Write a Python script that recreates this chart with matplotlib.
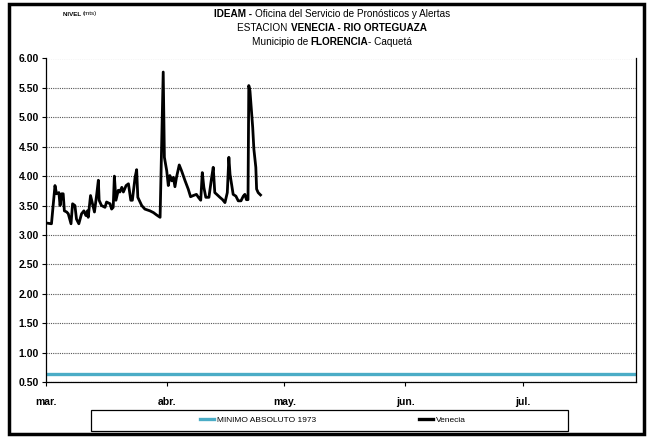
import matplotlib
matplotlib.use('Agg')
import matplotlib.pyplot as plt
from matplotlib.patches import Rectangle
from matplotlib.lines import Line2D

plt.rcParams['font.family'] = ['Liberation Sans', 'DejaVu Sans']

# days counted from 1 March
days = [0.4, 1.4, 2.3, 2.7, 3.3, 3.6, 4.0, 4.4, 4.7, 5.3, 5.7, 6.4, 6.8, 7.4, 7.8,
        8.4, 9.1, 9.7, 10.2, 10.6, 10.8, 11.4, 11.9, 12.4, 13.0, 13.4, 13.6, 14.2,
        15.1, 15.5, 16.4, 16.8, 17.2, 17.5, 17.9, 18.5, 18.9, 19.4, 19.8, 20.5,
        21.1, 21.7, 22.1, 22.8, 23.2, 23.5, 24.5, 25.3, 26.6, 27.5, 28.3, 29.2,
        30.0, 30.3, 30.9, 31.3, 31.7, 32.2, 32.6, 33.0, 33.4, 34.1, 34.7, 35.6,
        36.4, 37.0, 37.7, 38.5, 39.0, 39.6, 40.0, 40.4, 40.9, 41.7, 42.4, 42.8,
        43.2, 43.7, 44.5, 45.2, 45.8, 46.4, 46.8, 47.1, 47.9, 48.6, 49.2, 49.9,
        50.5, 50.9, 51.3, 51.7, 51.9, 52.2, 52.9, 53.2, 53.7, 53.9, 54.3, 54.9]
nivel = [3.20, 3.19, 3.84, 3.70, 3.72, 3.50, 3.70, 3.70, 3.41, 3.39, 3.36, 3.19, 3.53,
         3.50, 3.27, 3.19, 3.36, 3.41, 3.33, 3.41, 3.30, 3.67, 3.53, 3.39, 3.70, 3.93,
         3.59, 3.50, 3.47, 3.56, 3.53, 3.44, 3.47, 4.00, 3.59, 3.76, 3.73, 3.81, 3.73,
         3.84, 3.87, 3.59, 3.59, 3.98, 4.11, 3.64, 3.50, 3.44, 3.41, 3.38, 3.34, 3.30,
         5.77, 4.32, 4.09, 3.84, 4.01, 3.92, 3.98, 3.82, 3.98, 4.19, 4.09, 3.92, 3.78,
         3.65, 3.67, 3.69, 3.64, 3.59, 4.06, 3.81, 3.64, 3.64, 3.98, 4.15, 3.72, 3.69,
         3.64, 3.60, 3.55, 3.72, 4.32, 4.03, 3.69, 3.66, 3.58, 3.58, 3.66, 3.69, 3.60,
         3.60, 5.54, 5.45, 4.83, 4.46, 4.15, 3.78, 3.72, 3.68]

minimo = 0.64
month_labels = ['mar.', 'abr.', 'may.', 'jun.', 'jul.']
month_starts = [0, 31, 61, 92, 122]
x_end = 151

W, H = 651, 437
fig = plt.figure(figsize=(W / 100, H / 100), dpi=100)
ax = fig.add_axes([46 / W, 1 - 382 / H, 590 / W, 323.5 / H])

ax.axhline(minimo, color='#4bacc6', lw=2.4)
ax.plot(days, nivel, color='black', lw=2.0, solid_joinstyle='round')

ax.set_xlim(0, x_end)
ax.set_ylim(0.5, 6.0)
ax.set_yticks([0.5 + 0.5 * i for i in range(12)])
ax.set_yticklabels(['%.2f' % (0.5 + 0.5 * i) for i in range(12)],
                   fontsize=7.5, fontweight='bold')
ax.set_xticks(month_starts)
ax.set_xticklabels(month_labels, fontsize=7.5, fontweight='bold')
ax.tick_params(axis='both', direction='out', length=3, width=0.8, color='black')
ax.tick_params(axis='x', pad=8)
ax.tick_params(axis='y', pad=2)
ax.grid(axis='y', color='#555555', linestyle=(0, (1, 1)), lw=0.8)
ax.set_axisbelow(True)
ax.spines['top'].set_visible(False)
for s in ['left', 'bottom', 'right']:
    ax.spines[s].set_linewidth(0.9)

# mixed-weight title lines
renderer = fig.canvas.get_renderer()

def rich_line(cx, y, parts, size):
    texts = [fig.text(0, y, s, fontsize=size, fontweight=w, va='center', ha='left')
             for s, w in parts]
    widths = [t.get_window_extent(renderer).width for t in texts]
    x0 = cx - sum(widths) / 2
    for t, w in zip(texts, widths):
        t.set_x(x0 / W)
        x0 += w

rich_line(332, 1 - 14 / H, [('IDEAM - ', 'bold'),
                            ('Oficina del Servicio de Pronósticos y Alertas', 'normal')], 7.2)
rich_line(332, 1 - 28 / H, [('ESTACION ', 'normal'),
                            ('VENECIA - RIO ORTEGUAZA', 'bold')], 7.2)
rich_line(332, 1 - 42 / H, [('Municipio de ', 'normal'), ('FLORENCIA', 'bold'),
                            ('- Caquetá', 'normal')], 7.2)
rich_line(80, 1 - 14 / H, [('NIVEL ', 'bold'), ('(mts)', 'normal')], 4.5)

# legend
handles = [Line2D([], [], color='#4bacc6', lw=2.4),
           Line2D([], [], color='black', lw=2.4)]
fig.legend(handles, ['MINIMO ABSOLUTO 1973', 'Venecia'], loc='center',
           bbox_to_anchor=(333 / W, 1 - 420.5 / H), ncol=2, frameon=False,
           fontsize=6, handlelength=1.7, handletextpad=0.3, columnspacing=12.4)
fig.patches.append(Rectangle((91 / W, 1 - 431 / H), 477 / W, 21 / H, fill=False,
                             edgecolor='black', lw=0.9, transform=fig.transFigure))

# outer border
fig.patches.append(Rectangle((9 / W, 1 - 434 / H), 635 / W, 430 / H, fill=False,
                             edgecolor='black', lw=2.5, transform=fig.transFigure))

fig.savefig('out.png', dpi=100)
